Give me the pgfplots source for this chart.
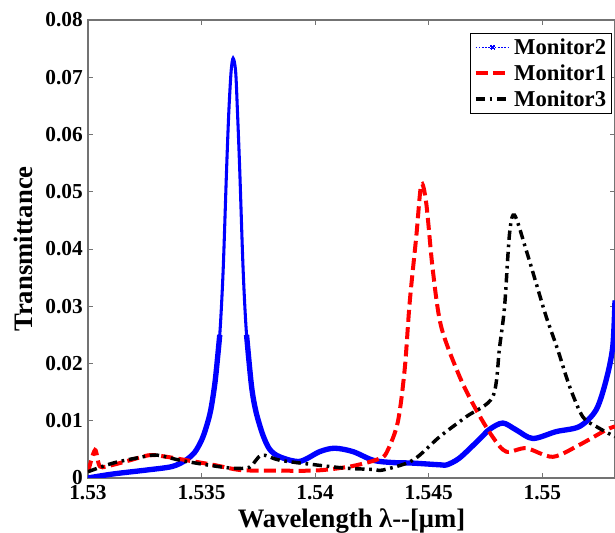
\documentclass[border=0pt]{standalone}
\usepackage{fontspec}
\setmainfont{Liberation Serif}
\usepackage{pgfplots}
\pgfplotsset{compat=1.18}
\begin{document}
\begin{tikzpicture}
\begin{axis}[
  scale only axis, width=395.25pt, height=343.5pt,
  xmin=1.53, xmax=1.5532, ymin=0, ymax=0.08,
  scaled x ticks=false, scaled y ticks=false,
  xtick={1.53,1.535,1.54,1.545,1.55},
  xticklabels={1.53,1.535,1.54,1.545,1.55},
  ytick={0,0.01,0.02,0.03,0.04,0.05,0.06,0.07,0.08},
  yticklabels={0,0.01,0.02,0.03,0.04,0.05,0.06,0.07,0.08},
  tick label style={font=\bfseries\fontsize{16}{16}\selectfont, inner sep=0pt},
  xticklabel style={yshift=-5.5pt},
  yticklabel style={xshift=-3.75pt},
  axis line style={black!55, line width=0.8pt},
  tick style={black!55, line width=0.6pt},
  major tick length=3.75pt,
  xlabel={Wavelength λ-{}-[μm]},
  ylabel={Transmittance},
  label style={font=\bfseries\fontsize{20}{20}\selectfont, inner sep=0pt},
  xlabel style={at={(axis description cs:0.5,-0.0655)}, anchor=north},
  ylabel style={at={(axis description cs:-0.1404,0.5)}, anchor=north},
  legend style={at={(1,1)}, anchor=north east, xshift=-2.25pt, yshift=-9.75pt,
    draw=black, line width=0.8pt, font=\bfseries\fontsize{17}{17}\selectfont,
    inner sep=2pt, row sep=2pt, cells={anchor=west}},
  legend image code/.code={\draw[mark repeat=2,mark phase=2,#1] plot coordinates {(0pt,0pt) (12.75pt,0pt) (25.5pt,0pt)};},
]
% Monitor2 (blue)
\addlegendimage{blue, line width=0.9pt, dash pattern=on 1.2pt off 1.2pt, mark=square*, mark size=1.3pt}
\addlegendentry{Monitor2}
\addplot[blue, line width=2.3pt, smooth, forget plot] coordinates {
(1.5300,0.0000) (1.5311,0.0007) (1.5326,0.0014) (1.5337,0.0020) (1.5343,0.0031)
(1.5347,0.0045) (1.5350,0.0066) (1.5352,0.0088) (1.5354,0.0118) (1.5356,0.0170)
(1.5358,0.0250) (1.53595,0.0363) (1.5361,0.0538) (1.5362,0.0640) (1.5363,0.0710)
(1.53639,0.0733) (1.5365,0.0710) (1.53658,0.0640) (1.53668,0.0538) (1.53683,0.0363)
(1.53698,0.0250) (1.5372,0.0160) (1.5374,0.0115) (1.5377,0.0075) (1.5380,0.0050)
(1.53844,0.0037) (1.53932,0.0029) (1.5402,0.0046) (1.54086,0.0052) (1.54167,0.0046)
(1.54255,0.0031) (1.5434,0.0027) (1.5443,0.0026) (1.5455,0.0023) (1.5458,0.0023)
(1.54636,0.0035) (1.54724,0.0068) (1.54768,0.0085) (1.54826,0.0096) (1.54885,0.0084)
(1.54958,0.0069) (1.55061,0.0081) (1.55164,0.0090) (1.55237,0.0119) (1.55281,0.0171)
(1.5531,0.0229) (1.5532,0.0310)
};
\addplot[blue, line width=4pt, smooth, forget plot] coordinates {
(1.5300,0.0000) (1.5311,0.0007) (1.5326,0.0014) (1.5337,0.0020) (1.5343,0.0031)
(1.5347,0.0045) (1.5350,0.0066) (1.5352,0.0088) (1.5354,0.0118) (1.5356,0.0170)
(1.5358,0.0250)
};
\addplot[blue, line width=4pt, smooth, forget plot] coordinates {
(1.53698,0.0250) (1.5372,0.0160) (1.5374,0.0115) (1.5377,0.0075) (1.5380,0.0050)
(1.53844,0.0037) (1.53932,0.0029) (1.5402,0.0046) (1.54086,0.0052) (1.54167,0.0046)
(1.54255,0.0031) (1.5434,0.0027) (1.5443,0.0026) (1.5455,0.0023) (1.5458,0.0023)
(1.54636,0.0035) (1.54724,0.0068) (1.54768,0.0085) (1.54826,0.0096) (1.54885,0.0084)
(1.54958,0.0069) (1.55061,0.0081) (1.55164,0.0090) (1.55237,0.0119) (1.55281,0.0171)
(1.5531,0.0229) (1.5532,0.0310)
};
% Monitor1 (red)
\addplot[red, line width=3pt, dash pattern=on 9pt off 4pt, smooth] coordinates {
(1.5300,0.0010) (1.53031,0.0049) (1.53053,0.0020) (1.5311,0.0023) (1.53185,0.0031)
(1.53273,0.0040) (1.53346,0.0037) (1.53434,0.0031) (1.53551,0.0023) (1.53668,0.0014)
(1.53786,0.0013) (1.5400,0.0013) (1.54138,0.0019) (1.5422,0.0026) (1.54284,0.0034)
(1.54314,0.0044) (1.54363,0.0096) (1.54394,0.0189) (1.54416,0.0306) (1.54445,0.0421)
(1.54467,0.0512) (1.54489,0.0480) (1.54518,0.0363) (1.54555,0.0264) (1.54636,0.0177)
(1.54709,0.0119) (1.54781,0.0072) (1.54841,0.0046) (1.54929,0.0052) (1.55046,0.0037)
(1.55164,0.0058) (1.55281,0.0084) (1.5532,0.0090)
};
\addlegendentry{Monitor1}
% Monitor3 (black)
\addplot[black, line width=2.6pt, dash pattern=on 7pt off 3.5pt on 2pt off 3.5pt, smooth] coordinates {
(1.5300,0.0011) (1.5311,0.0026) (1.53229,0.0036) (1.53302,0.0040) (1.53405,0.0031)
(1.53522,0.0023) (1.53639,0.0017) (1.53712,0.0019) (1.53764,0.0040) (1.53844,0.0031)
(1.5400,0.0023) (1.54138,0.0017) (1.54255,0.0015) (1.54299,0.0014) (1.5443,0.0031)
(1.54548,0.0072) (1.54665,0.0107) (1.54782,0.0142) (1.54812,0.0229) (1.54834,0.0300)
(1.54856,0.0428) (1.54878,0.0459) (1.54929,0.0398) (1.54973,0.0340) (1.55017,0.0282)
(1.55068,0.0224) (1.5512,0.0160) (1.55178,0.0107) (1.55237,0.0090) (1.5532,0.0072)
};
\addlegendentry{Monitor3}
\end{axis}
\pgfresetboundingbox
\path ([xshift=-66pt,yshift=-41.25pt]current axis.south west) rectangle ([yshift=15pt]current axis.north east);
\end{tikzpicture}
\end{document}
